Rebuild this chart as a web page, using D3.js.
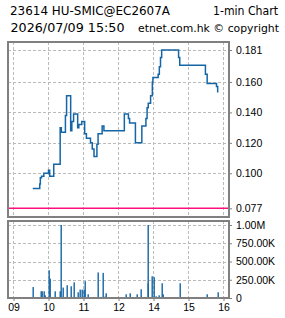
<!DOCTYPE html>
<meta charset="utf-8">
<style>
body {
  margin: 0;
  background: #fff;
}
svg {
  display: block;
  font-family: "Liberation Sans", Arial, sans-serif;
}
.title {
  font-family: "DejaVu Sans", Verdana, sans-serif;
  font-size: 12px;
  fill: #000;
}
.grid line {
  stroke: #bbb;
  stroke-width: 1;
  stroke-dasharray: 3,2;
}
.frame {
  fill: none;
  stroke: #808080;
  stroke-width: 2px;
}
.axis text {
  font-size: 10.5px;
  fill: #000;
}
.axis line {
  stroke: #808080;
}
.axis path {
  display: none;
}
</style>
<body>
<script src="https://d3js.org/d3.v7.min.js"></script>
<script>
// 1-min price steps
var priceTimes = ["09:33","09:45","09:46","09:48","09:52","10:00","10:02","10:09","10:20","10:22",
  "10:29","10:31","10:38","10:40","10:43","10:50","10:52","10:57","11:02","11:05",
  "11:12","11:15","11:18","11:23","11:25","11:32","11:35","13:10","13:17","13:19",
  "13:29","13:40","13:47","13:49","13:51","13:55","13:58","13:59","14:08","14:10",
  "14:12","14:14","14:43","14:45","15:29","15:32","15:48","15:50"];
var prices = [0.090,0.093,0.097,0.098,0.100,0.102,0.098,0.106,0.130,0.127,
  0.138,0.151,0.128,0.134,0.139,0.130,0.132,0.134,0.126,0.123,
  0.120,0.116,0.111,0.119,0.126,0.131,0.128,0.139,0.136,0.133,
  0.120,0.131,0.136,0.143,0.146,0.151,0.160,0.163,0.165,0.170,
  0.176,0.181,0.176,0.171,0.165,0.159,0.157,0.153];

// volume bars
var volTimes = ["09:33","09:47","09:49","09:52","09:54","10:00","10:02","10:11","10:19","10:21",
  "10:24","10:31","10:38","10:43","10:50","10:54","10:57","11:00","11:03","11:07",
  "11:25","11:33","11:36","11:38","13:12","13:19","13:31","13:39","13:50","13:51",
  "13:58","14:00","14:05","14:10","14:14","14:17","14:45","15:31","15:50"];
var volumes = [150000,92000,92000,92000,37000,380000,265000,92000,92000,1000000,
  143000,175000,160000,215000,78000,115000,115000,115000,230000,51000,
  350000,344000,20000,65000,51000,65000,51000,120000,1000000,202000,
  298000,285000,23000,37000,202000,51000,202000,51000,78000];

var prevClose = 0.077;
var priceTicks = [0.181, 0.160, 0.140, 0.120, 0.100, 0.077];
var priceLabels = ["0.181","0.160","0.140","0.120","0.100","0.077"];
var volTicks = [0, 250000, 500000, 750000, 1000000];
var volLabels = ["0","250.00K","500.00K","750.00K","1.00M"];
var hourTicks = [9, 10, 11, 12, 14, 15, 16];
var hourLabels = ["09","10","11","12","14","15","16"];

var width = 285,
    height = 318,
    left = 8,
    right = 229;

function mins(s) {
  var p = s.split(":");
  return +p[0] * 60 + +p[1];
}

var svg = d3.select("body").append("svg")
    .attr("width", width)
    .attr("height", height);

// header
svg.append("text").attr("class", "title")
    .attr("x", 10).attr("y", 15)
    .attr("textLength", 160).attr("lengthAdjust", "spacingAndGlyphs")
    .text("23614 HU-SMIC@EC2607A");
svg.append("text").attr("class", "title")
    .attr("x", 213).attr("y", 15)
    .attr("textLength", 65).attr("lengthAdjust", "spacingAndGlyphs")
    .text("1-min Chart");
svg.append("text").attr("class", "title")
    .attr("x", 10.5).attr("y", 31.5)
    .attr("textLength", 114).attr("lengthAdjust", "spacingAndGlyphs")
    .text("2026/07/09 15:50");
svg.append("text").attr("class", "title")
    .attr("x", 138).attr("y", 31.5)
    .style("font-size", "11px")
    .attr("textLength", 141).attr("lengthAdjust", "spacingAndGlyphs")
    .text("etnet.com.hk \u00a9 copyright");

// x skips the lunch hour
var x = d3.scaleLinear()
    .domain([540, 720, 780, 960])
    .range([13.5, 118.5, 118.5, 223.5]);

var y = d3.scaleLinear()
    .domain([0.077, 0.181])
    .range([208.3, 50]);

var yv = d3.scaleLinear()
    .domain([0, 1000000])
    .range([298, 225]);

var main = {top: 42, bottom: 217},
    vol = {top: 221, bottom: 298};

// grids
var g1 = svg.append("g").attr("class", "grid");
g1.selectAll(".v").data(hourTicks).enter().append("line")
    .attr("x1", function(d) { return x(d * 60); })
    .attr("x2", function(d) { return x(d * 60); })
    .attr("y1", main.top).attr("y2", main.bottom);
g1.selectAll(".h").data(priceTicks.filter(function(d) { return d != prevClose; })).enter().append("line")
    .attr("x1", left).attr("x2", right)
    .attr("y1", function(d) { return Math.round(y(d)) + 0.5; })
    .attr("y2", function(d) { return Math.round(y(d)) + 0.5; });

var g2 = svg.append("g").attr("class", "grid");
g2.selectAll(".v").data(hourTicks).enter().append("line")
    .attr("x1", function(d) { return x(d * 60); })
    .attr("x2", function(d) { return x(d * 60); })
    .attr("y1", vol.top).attr("y2", vol.bottom);
g2.selectAll(".h").data(volTicks.slice(1)).enter().append("line")
    .attr("x1", left).attr("x2", right)
    .attr("y1", function(d) { return Math.round(yv(d)) + 0.5; })
    .attr("y2", function(d) { return Math.round(yv(d)) + 0.5; });

// previous close
svg.append("line")
    .attr("x1", left).attr("x2", right)
    .attr("y1", y(prevClose)).attr("y2", y(prevClose))
    .attr("stroke", "#ff1080")
    .attr("stroke-width", 1.6);

// price line
var pts = priceTimes.map(function(t, i) { return {t: mins(t), p: prices[i]}; });
var line = d3.line()
    .x(function(d) { return x(d.t); })
    .y(function(d) { return y(d.p); })
    .curve(d3.curveStepAfter);
svg.append("path")
    .datum(pts)
    .attr("d", line)
    .attr("fill", "none")
    .attr("stroke", "#1466a6")
    .attr("stroke-width", 1.5);

// volume bars
var bars = volTimes.map(function(t, i) { return {t: mins(t), v: volumes[i]}; });
svg.selectAll(".bar").data(bars).enter().append("rect")
    .attr("class", "bar")
    .attr("x", function(d) { return Math.round(x(d.t)) - 0.5; })
    .attr("width", 1.4)
    .attr("y", function(d) { return yv(d.v); })
    .attr("height", function(d) { return yv(0) - yv(d.v); })
    .attr("fill", "#1466a6");

// frames
svg.append("rect").attr("class", "frame")
    .attr("x", left).attr("y", main.top)
    .attr("width", right - left).attr("height", main.bottom - main.top);
svg.append("rect").attr("class", "frame")
    .attr("x", left).attr("y", vol.top)
    .attr("width", right - left).attr("height", vol.bottom - vol.top);

// axes
svg.append("g").attr("class", "axis")
    .attr("transform", "translate(" + right + ",0)")
    .call(d3.axisRight(y).tickValues(priceTicks).tickSize(3).tickPadding(4)
      .tickFormat(function(d, i) { return priceLabels[i]; }));

svg.append("g").attr("class", "axis")
    .attr("transform", "translate(" + right + ",0)")
    .call(d3.axisRight(yv).tickValues(volTicks).tickSize(3).tickPadding(4)
      .tickFormat(function(d, i) { return volLabels[i]; }));

svg.append("g").attr("class", "axis")
    .attr("transform", "translate(0," + vol.bottom + ")")
    .call(d3.axisBottom(x).tickValues(hourTicks.map(function(h) { return h * 60; }))
      .tickSize(3).tickPadding(3)
      .tickFormat(function(d, i) { return hourLabels[i]; }));
</script>
</body>
